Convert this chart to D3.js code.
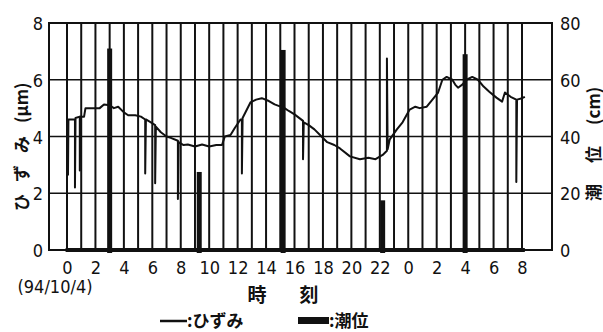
<!DOCTYPE html>
<html>
<head>
<meta charset="utf-8">
<script src="https://cdn.jsdelivr.net/npm/d3@7"></script>
<style>
  body { margin: 0; background: #fff; }
  svg { display: block; }
  .num { font-family: 'DejaVu Sans', sans-serif; font-stretch: condensed; font-size: 18px; fill: #111; }
  .jp { font-family: 'Noto Sans CJK JP', sans-serif; font-weight: 700; fill: #111; }
</style>
</head>
<body>
<div id="chart"></div>
<script>
// strain (ひずみ, µm) vs hours from 0:00 on 94/10/4; repeated hours are the spikes
const strainHours = [0.0, 0.07, 0.07, 0.1, 0.56, 0.56, 0.6, 0.9, 0.9, 0.95, 1.2, 1.3, 2.0, 2.3, 2.6, 3.0, 3.3, 3.6, 4.0, 4.3,
  4.8, 5.2, 5.5, 5.5, 5.55, 5.9, 6.2, 6.2, 6.25, 6.6, 7.0, 7.3, 7.8, 7.8, 7.85, 8.2, 8.5, 9.0, 9.5, 10.0,
  10.5, 10.9, 11.1, 11.5, 11.8, 12.2, 12.3, 12.3, 12.35, 12.9, 13.3, 13.7, 14.2, 14.6, 15.3, 15.6, 16.0, 16.6, 16.6, 16.65,
  17.0, 17.4, 17.9, 18.3, 18.8, 19.2, 19.9, 20.6, 21.2, 21.7, 22.2, 22.5, 22.5, 22.55, 22.7, 23.2, 23.6, 24.1, 24.5, 24.8,
  25.3, 25.7, 26.1, 26.4, 26.7, 27.1, 27.3, 27.5, 27.8, 28.1, 28.5, 28.9, 29.3, 29.7, 30.2, 30.6, 30.8, 31.2, 31.6, 31.6,
  31.65, 32.0, 32.2];
const strainValues = [4.5, 4.55, 2.65, 4.6, 4.6, 2.2, 4.65, 4.7, 2.8, 4.7, 4.7, 5.0, 5.0, 5.0, 5.13, 5.1, 5.0, 5.05, 4.85, 4.75,
  4.75, 4.7, 4.6, 2.7, 4.6, 4.5, 4.4, 2.35, 4.35, 4.15, 4.0, 3.95, 3.85, 1.8, 3.8, 3.7, 3.72, 3.65, 3.72, 3.65,
  3.7, 3.7, 4.0, 4.05, 4.3, 4.6, 4.6, 2.7, 4.65, 5.2, 5.3, 5.35, 5.25, 5.13, 5.0, 4.9, 4.78, 4.55, 3.2, 4.5,
  4.4, 4.25, 4.0, 3.8, 3.7, 3.58, 3.3, 3.2, 3.25, 3.2, 3.35, 3.5, 6.75, 3.55, 3.9, 4.25, 4.5, 4.95, 5.05, 5.0,
  5.05, 5.3, 5.55, 6.0, 6.1, 6.0, 5.83, 5.72, 5.83, 6.0, 6.1, 6.0, 5.76, 5.58, 5.37, 5.23, 5.55, 5.4, 5.3, 2.4,
  5.3, 5.35, 5.4];

// tide level (潮位, cm)
const tideHours = [3.0, 9.3, 15.2, 22.2, 28.0];
const tideValues = [71, 27.5, 70.5, 17.5, 69];

const hourTicks = [0, 2, 4, 6, 8, 10, 12, 14, 16, 18, 20, 22, 24, 26, 28, 30, 32];
const hourLabels = ['0', '2', '4', '6', '8', '10', '12', '14', '16', '18', '20', '22', '0', '2', '4', '6', '8'];
const strainTicks = [0, 2, 4, 6, 8];
const tideTicks = [0, 20, 40, 60, 80];

const W = 603, H = 332;
const plot = {left: 49, right: 552, top: 23, bottom: 250};

const svg = d3.select('#chart').append('svg')
  .attr('width', W)
  .attr('height', H);

const x = d3.scaleLinear().domain([0, 32]).range([67, 522]);
const y = d3.scaleLinear().domain([0, 8]).range([plot.bottom, plot.top]);
const yTide = d3.scaleLinear().domain([0, 80]).range([plot.bottom, plot.top]);

// hourly vertical grid
svg.append('g').attr('class', 'vgrid')
  .selectAll('line')
  .data(d3.range(0, 33))
  .enter().append('line')
  .attr('x1', d => x(d)).attr('x2', d => x(d))
  .attr('y1', plot.top).attr('y2', plot.bottom)
  .style('stroke', '#111')
  .style('stroke-width', '2px');

// horizontal grid
svg.append('g').attr('class', 'hgrid')
  .selectAll('line')
  .data([2, 4, 6])
  .enter().append('line')
  .attr('x1', plot.left).attr('x2', plot.right)
  .attr('y1', d => y(d)).attr('y2', d => y(d))
  .style('stroke', '#111')
  .style('stroke-width', '1.6px');

// frame
svg.append('rect')
  .attr('x', plot.left).attr('y', plot.top)
  .attr('width', plot.right - plot.left).attr('height', plot.bottom - plot.top)
  .style('fill', 'none')
  .style('stroke', '#111')
  .style('stroke-width', '2px');

// thick baseline under the recording span
svg.append('line')
  .attr('x1', x(-0.1)).attr('x2', x(32.2))
  .attr('y1', y(0)).attr('y2', y(0))
  .style('stroke', '#111')
  .style('stroke-width', '4px');

// tide bars
svg.append('g').attr('class', 'tide')
  .selectAll('rect')
  .data(tideHours.map((h, i) => ({h: h, v: tideValues[i]})))
  .enter().append('rect')
  .attr('x', d => x(d.h) - 2.5)
  .attr('width', 5)
  .attr('y', d => yTide(d.v))
  .attr('height', d => yTide(0) - yTide(d.v) + 3)
  .style('fill', '#111');

// strain line
const line = d3.line()
  .x(d => x(d[0]))
  .y(d => y(d[1]));

svg.append('path')
  .datum(strainHours.map((h, i) => [h, strainValues[i]]))
  .attr('d', line)
  .style('fill', 'none')
  .style('stroke', '#111')
  .style('stroke-width', '2px')
  .style('stroke-linejoin', 'round');

// axes
const xAxis = svg.append('g')
  .attr('transform', 'translate(0,' + (plot.bottom + 4) + ')')
  .call(d3.axisBottom(x).tickValues(hourTicks).tickFormat((d, i) => hourLabels[i]).tickSize(0));
xAxis.select('.domain').remove();

const yAxis = svg.append('g')
  .attr('transform', 'translate(' + (plot.left - 3) + ',0)')
  .call(d3.axisLeft(y).tickValues(strainTicks).tickSize(0));
yAxis.select('.domain').remove();

const yAxisR = svg.append('g')
  .attr('transform', 'translate(' + (plot.right + 5) + ',0)')
  .call(d3.axisRight(yTide).tickValues(tideTicks).tickSize(0));
yAxisR.select('.domain').remove();

svg.selectAll('.tick text').attr('class', 'num')
  .attr('font-family', null).attr('font-size', null)
  .attr('dy', null).attr('dominant-baseline', 'central');
xAxis.selectAll('.tick text').attr('dominant-baseline', null).attr('dy', '0.92em');

// date under 0
svg.append('text').attr('class', 'num')
  .attr('x', 55).attr('y', 293)
  .attr('text-anchor', 'middle')
  .text('(94/10/4)');

// axis titles (rotated, reading bottom to top)
svg.append('text').attr('class', 'jp')
  .attr('transform', 'translate(20,211) rotate(-90)')
  .attr('dominant-baseline', 'central')
  .style('font-size', '17px')
  .style('letter-spacing', '12px')
  .text('ひずみ');
svg.append('text').attr('class', 'jp')
  .attr('transform', 'translate(20,123) rotate(-90)')
  .attr('dominant-baseline', 'central')
  .style('font-size', '17px')
  .text('(μm)');

svg.append('text').attr('class', 'jp')
  .attr('transform', 'translate(592,201) rotate(-90)')
  .attr('dominant-baseline', 'central')
  .style('font-size', '17px')
  .style('letter-spacing', '21px')
  .text('潮位');
svg.append('text').attr('class', 'jp')
  .attr('transform', 'translate(592,125) rotate(-90)')
  .attr('dominant-baseline', 'central')
  .style('font-size', '17px')
  .text('(cm)');

svg.append('text').attr('class', 'jp')
  .attr('x', 257).attr('y', 302)
  .attr('text-anchor', 'middle')
  .style('font-size', '19px')
  .text('時');
svg.append('text').attr('class', 'jp')
  .attr('x', 309).attr('y', 302)
  .attr('text-anchor', 'middle')
  .style('font-size', '19px')
  .text('刻');

// legend
const legend = svg.append('g').attr('class', 'legend');
legend.append('line')
  .attr('x1', 160).attr('x2', 187).attr('y1', 321).attr('y2', 321)
  .style('stroke', '#111').style('stroke-width', '2.5px');
legend.append('text').attr('class', 'jp')
  .attr('x', 187).attr('y', 327)
  .style('font-size', '17px')
  .text(':ひずみ');
legend.append('rect')
  .attr('x', 298).attr('y', 317).attr('width', 31).attr('height', 7)
  .style('fill', '#111');
legend.append('text').attr('class', 'jp')
  .attr('x', 329).attr('y', 327)
  .style('font-size', '17px')
  .text(':潮位');
</script>
</body>
</html>
